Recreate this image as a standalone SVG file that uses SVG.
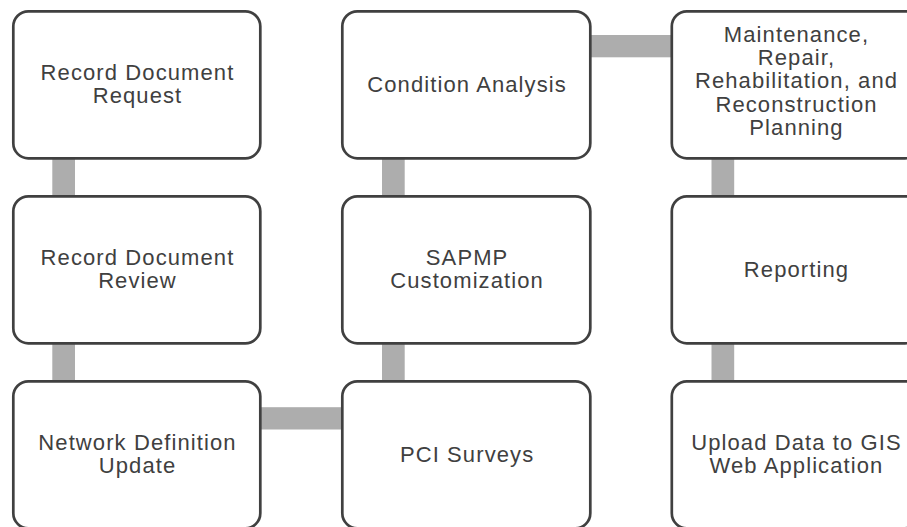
<svg xmlns="http://www.w3.org/2000/svg" width="907" height="527" viewBox="0 0 907 527">
<style>
.box{fill:#ffffff;stroke:#404040;stroke-width:2.7}
.lbl{font-family:"Liberation Sans",Arial,sans-serif;font-size:22px;fill:#404040;text-anchor:middle;letter-spacing:1.1px}
.conn{fill:#adadad}
</style>
<rect width="907" height="527" fill="#ffffff"/>
<g id="connectors">
<rect class="conn" x="52.3" y="150" width="22.7" height="55"/>
<rect class="conn" x="52.3" y="335" width="22.7" height="55"/>
<rect class="conn" x="382" y="150" width="22.7" height="55"/>
<rect class="conn" x="382" y="335" width="22.7" height="55"/>
<rect class="conn" x="711.5" y="150" width="22.7" height="55"/>
<rect class="conn" x="711.5" y="335" width="22.7" height="55"/>
<rect class="conn" x="580" y="35" width="100" height="22.3"/>
<rect class="conn" x="250" y="407.2" width="100" height="22.3"/>
</g>
<g id="n1"><rect class="box" x="13.3" y="11.3" width="247" height="147" rx="15"/>
<text class="lbl" x="137.5"><tspan x="137.5" y="80">Record Document</tspan><tspan x="137.5" y="103.3">Request</tspan></text></g>
<g id="n2"><rect class="box" x="13.3" y="196.3" width="247" height="147" rx="15"/>
<text class="lbl" x="137.5"><tspan x="137.5" y="265">Record Document</tspan><tspan x="137.5" y="288.3">Review</tspan></text></g>
<g id="n3"><rect class="box" x="13.3" y="381.3" width="247" height="147" rx="15"/>
<text class="lbl" x="137.5"><tspan x="137.5" y="450">Network Definition</tspan><tspan x="137.5" y="473.3">Update</tspan></text></g>
<g id="n4"><rect class="box" x="342.3" y="381.3" width="248" height="147" rx="15"/>
<text class="lbl" x="467.1" y="461.7">PCI Surveys</text></g>
<g id="n5"><rect class="box" x="342.3" y="196.3" width="248" height="147" rx="15"/>
<text class="lbl" x="467.1"><tspan x="467.1" y="265">SAPMP</tspan><tspan x="467.1" y="288.3">Customization</tspan></text></g>
<g id="n6"><rect class="box" x="342.3" y="11.3" width="248" height="147" rx="15"/>
<text class="lbl" x="467.1" y="91.7">Condition Analysis</text></g>
<g id="n7"><rect class="box" x="671.8" y="11.3" width="248" height="147" rx="15"/>
<text class="lbl" x="796.5"><tspan x="796.5" y="41.7">Maintenance,</tspan><tspan x="796.5" y="65">Repair,</tspan><tspan x="796.5" y="88.3">Rehabilitation, and</tspan><tspan x="796.5" y="111.6">Reconstruction</tspan><tspan x="796.5" y="134.9">Planning</tspan></text></g>
<g id="n8"><rect class="box" x="671.8" y="196.3" width="248" height="147" rx="15"/>
<text class="lbl" x="796.5" y="276.7">Reporting</text></g>
<g id="n9"><rect class="box" x="671.8" y="381.3" width="248" height="147" rx="15"/>
<text class="lbl" x="796.5"><tspan x="796.5" y="450">Upload Data to GIS</tspan><tspan x="796.5" y="473.3">Web Application</tspan></text></g>
</svg>
